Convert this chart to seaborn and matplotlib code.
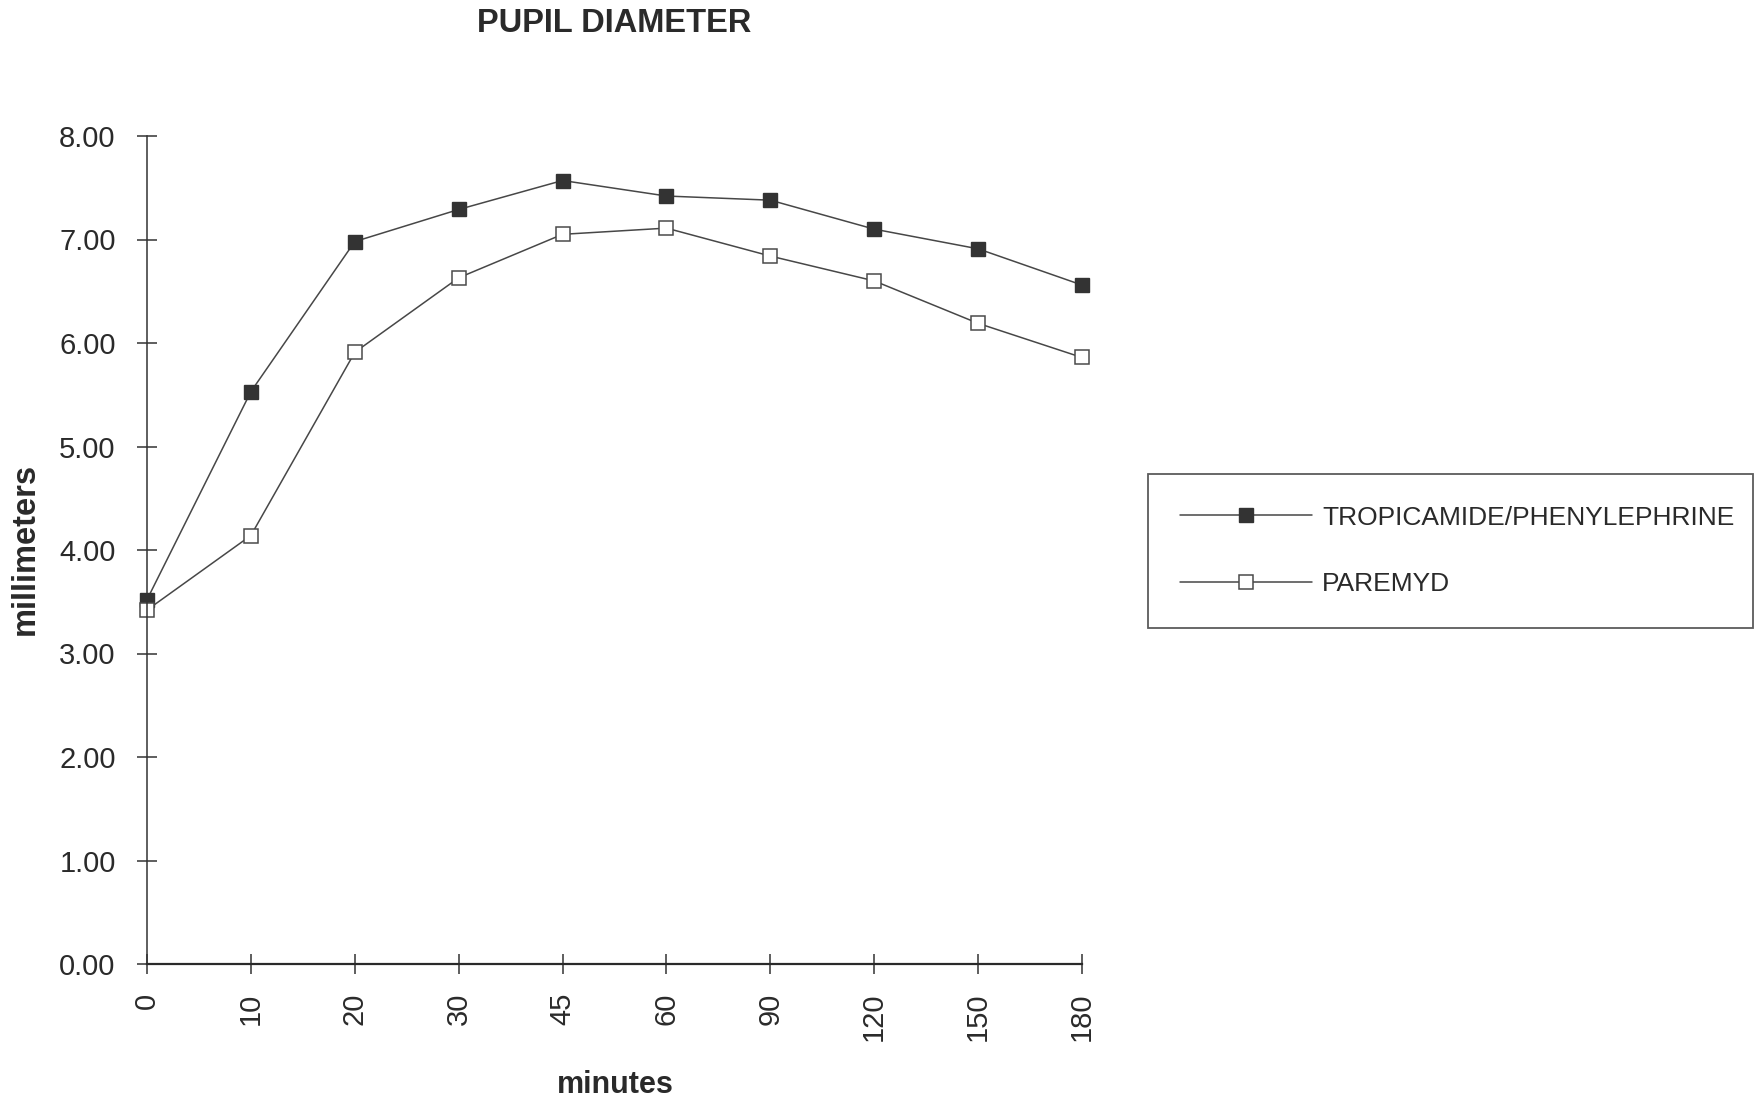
import matplotlib
matplotlib.use("Agg")
import matplotlib.pyplot as plt
import seaborn as sns
from matplotlib.ticker import FormatStrFormatter

# Time points (minutes after instillation) and mean pupil diameters (mm)
minutes = ["0", "10", "20", "30", "45", "60", "90", "120", "150", "180"]
tropicamide_phenylephrine = [3.52, 5.53, 6.98, 7.29, 7.57, 7.42, 7.38, 7.10, 6.91, 6.56]
paremyd = [3.42, 4.14, 5.91, 6.63, 7.05, 7.11, 6.84, 6.60, 6.19, 5.86]
series_names = ["TROPICAMIDE/PHENYLEPHRINE", "PAREMYD"]
y_ticks = [0, 1, 2, 3, 4, 5, 6, 7, 8]

sns.set_theme(style="white")
plt.rcParams["font.family"] = ["Liberation Sans", "DejaVu Sans"]

W, H = 1762, 1102
fig = plt.figure(figsize=(W / 100, H / 100), dpi=100, facecolor="white")
ax = fig.add_axes([147 / W, 1 - 964 / H, 935 / W, 828 / H])
ax.set_facecolor("white")

line_color = "#474747"
sns.lineplot(x=minutes, y=tropicamide_phenylephrine, ax=ax, color=line_color,
             linewidth=1.1, marker="s", markersize=10.5,
             markerfacecolor="#333333", markeredgecolor="#333333",
             markeredgewidth=1.0, clip_on=False, label=series_names[0],
             legend=False)
sns.lineplot(x=minutes, y=paremyd, ax=ax, color=line_color,
             linewidth=1.1, marker="s", markersize=10.5,
             markerfacecolor="white", markeredgecolor="#4a4a4a",
             markeredgewidth=1.1, clip_on=False, label=series_names[1],
             legend=False)

ax.set_xlim(0, len(minutes) - 1)
ax.set_ylim(0, 8)
ax.set_yticks(y_ticks)
ax.yaxis.set_major_formatter(FormatStrFormatter("%.2f"))
ax.set_xticks(range(len(minutes)))
ax.set_xticklabels(minutes, rotation=90)

for side in ("top", "right"):
    ax.spines[side].set_visible(False)
ax.spines["left"].set_color("#333333")
ax.spines["left"].set_linewidth(1.1)
ax.spines["bottom"].set_color("#2a2a2a")
ax.spines["bottom"].set_linewidth(1.6)

ax.tick_params(axis="both", direction="inout", colors="#333333",
               width=1.1, labelcolor="#2a2a2a", labelsize=21,
               bottom=True, left=True)
ax.tick_params(axis="y", length=15, pad=15)
ax.tick_params(axis="x", length=15, pad=13)
ax.grid(False)
ax.set_xlabel("")
ax.set_ylabel("")

# Title and axis captions
fig.text(614 / W, 1 - 23 / H, "PUPIL DIAMETER", ha="center", va="center",
         fontsize=23.5, fontweight="bold", color="#2a2a2a")
fig.text(615 / W, 1 - 1085 / H, "minutes", ha="center", va="center",
         fontsize=22, fontweight="bold", color="#2a2a2a")
fig.text(25 / W, 1 - 549 / H, "millimeters", ha="center", va="center",
         rotation=90, fontsize=23.5, fontweight="bold", color="#2a2a2a")

handles, labels = ax.get_legend_handles_labels()
leg = fig.legend(handles, labels, loc="upper left",
                 bbox_to_anchor=(1148 / W, 1 - 474 / H, 605 / W, 0),
                 mode="expand", fontsize=19, frameon=True, fancybox=False,
                 handlelength=5.0, handletextpad=0.4, labelspacing=1.62,
                 borderpad=1.2, borderaxespad=0)
leg.get_frame().set_edgecolor("#333333")
leg.get_frame().set_linewidth(1.3)
for t in leg.get_texts():
    t.set_color("#2a2a2a")

fig.savefig("out.png", dpi=100, facecolor="white")
